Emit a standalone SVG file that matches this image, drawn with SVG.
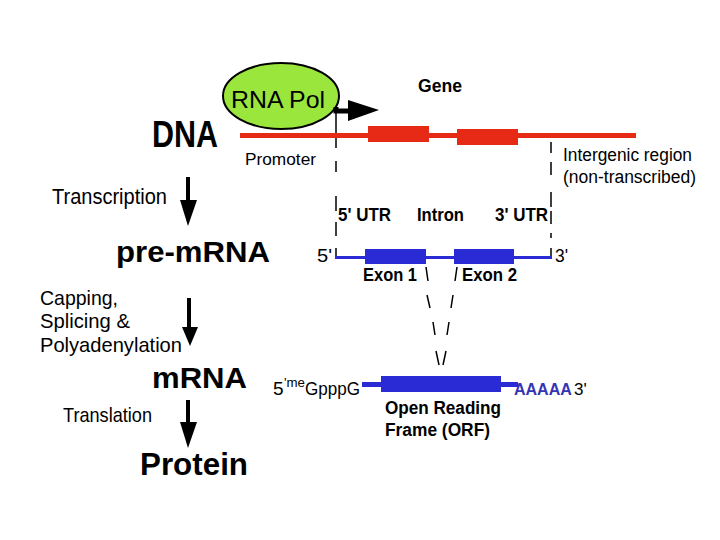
<svg xmlns="http://www.w3.org/2000/svg" width="720" height="540" viewBox="0 0 720 540">
<style>
text{font-family:"Liberation Sans",Arial,sans-serif;fill:#000}
.b{font-weight:bold}
.r{fill:#e62a16}
.bl{fill:#2b2bd6}
.dash{stroke:#000;stroke-width:1.5;fill:none}
.arr{stroke:#000;stroke-width:4;fill:none}
</style>
<rect width="720" height="540" fill="#fff"/>
<g id="connectors">
  <line class="arr" x1="188" y1="177" x2="188" y2="202"/>
  <polygon points="180,200 197,200 188,226"/>
  <line class="arr" x1="189" y1="298" x2="189" y2="329"/>
  <polygon points="182,327 198,327 190,346"/>
  <line class="arr" x1="188" y1="400" x2="188" y2="424"/>
  <polygon points="180,422 197,422 188,448"/>
  <path class="dash" d="M336,106 V148 M336,161 V172 M336,196 V211 M336,222 V236 M336,248 V259"/>
  <path class="dash" d="M551,142 V153 M551,162 V175 M551,192 V207 M551,211 V224 M551,233 V238 M551,248 V259"/>
  <path class="dash" d="M426,267 L428,281 M427,295 L430,308 M433,322 L435,335 M436,351 L439,365"/>
  <path class="dash" d="M457,267 L455,281 M453,295 L451,308 M449,322 L447,335 M446,351 L443,365"/>
  <line x1="441" y1="376" x2="441" y2="380" stroke="#000" stroke-width="1"/>
</g>
<g id="dna">
  <rect class="r" x="240" y="133" width="396" height="5"/>
  <rect class="r" x="368" y="126" width="61" height="16"/>
  <rect class="r" x="457" y="129" width="61" height="16"/>
</g>
<g id="rnapol">
  <ellipse cx="281" cy="96" rx="58" ry="33" fill="#9be63c" stroke="#000" stroke-width="2"/>
  <text x="231" y="108" font-size="24" textLength="94" lengthAdjust="spacingAndGlyphs">RNA Pol</text>
</g>
<g id="start-arrow">
  <path d="M336,107 V111 H352" stroke="#000" stroke-width="5" fill="none"/>
  <polygon points="348,100 379,110 348,121"/>
</g>
<g id="premrna">
  <rect class="bl" x="336" y="256" width="215" height="3"/>
  <rect class="bl" x="365" y="249" width="61" height="15"/>
  <rect class="bl" x="454" y="249" width="60" height="15"/>
</g>
<g id="mrna">
  <rect class="bl" x="362" y="382" width="156" height="5"/>
  <rect class="bl" x="381" y="376" width="120" height="16"/>
</g>
<g id="labels">
  <text x="418" y="92" font-size="19" class="b" textLength="44" lengthAdjust="spacingAndGlyphs">Gene</text>
  <text x="152" y="147" font-size="37" class="b" textLength="66" lengthAdjust="spacingAndGlyphs">DNA</text>
  <text x="245" y="165" font-size="17" textLength="71" lengthAdjust="spacingAndGlyphs">Promoter</text>
  <text x="563" y="161" font-size="18" textLength="129" lengthAdjust="spacingAndGlyphs">Intergenic region</text>
  <text x="563" y="183" font-size="18" textLength="133" lengthAdjust="spacingAndGlyphs">(non-transcribed)</text>
  <text x="52" y="204" font-size="22" textLength="115" lengthAdjust="spacingAndGlyphs">Transcription</text>
  <text x="338" y="221" font-size="18" class="b" textLength="53" lengthAdjust="spacingAndGlyphs">5' UTR</text>
  <text x="417" y="221" font-size="18" class="b" textLength="47" lengthAdjust="spacingAndGlyphs">Intron</text>
  <text x="495" y="221" font-size="18" class="b" textLength="53" lengthAdjust="spacingAndGlyphs">3' UTR</text>
  <text x="116" y="262" font-size="30" class="b" textLength="154" lengthAdjust="spacingAndGlyphs">pre-mRNA</text>
  <text x="317" y="262" font-size="18" textLength="15" lengthAdjust="spacingAndGlyphs">5'</text>
  <text x="555" y="262" font-size="18" textLength="13" lengthAdjust="spacingAndGlyphs">3'</text>
  <text x="363" y="281" font-size="18" class="b" textLength="54" lengthAdjust="spacingAndGlyphs">Exon 1</text>
  <text x="462" y="281" font-size="18" class="b" textLength="55" lengthAdjust="spacingAndGlyphs">Exon 2</text>
  <text x="40" y="305" font-size="21" textLength="78" lengthAdjust="spacingAndGlyphs">Capping,</text>
  <text x="40" y="328" font-size="21" textLength="90" lengthAdjust="spacingAndGlyphs">Splicing &amp;</text>
  <text x="40" y="352" font-size="21" textLength="142" lengthAdjust="spacingAndGlyphs">Polyadenylation</text>
  <text x="152" y="388" font-size="30" class="b" textLength="95" lengthAdjust="spacingAndGlyphs">mRNA</text>
  <text x="273" y="395" font-size="19">5</text>
  <text x="284" y="387" font-size="12" textLength="21" lengthAdjust="spacingAndGlyphs">'me</text>
  <text x="305" y="395" font-size="19" textLength="55" lengthAdjust="spacingAndGlyphs">GpppG</text>
  <text x="514" y="395" font-size="16" class="b" style="fill:#3434b4">AAAAA</text>
  <text x="574" y="395" font-size="17">3'</text>
  <text x="385" y="414" font-size="18" class="b" textLength="116" lengthAdjust="spacingAndGlyphs">Open Reading</text>
  <text x="385" y="436" font-size="18" class="b" textLength="105" lengthAdjust="spacingAndGlyphs">Frame (ORF)</text>
  <text x="63" y="422" font-size="21" textLength="89" lengthAdjust="spacingAndGlyphs">Translation</text>
  <text x="140" y="475" font-size="32" class="b" textLength="108" lengthAdjust="spacingAndGlyphs">Protein</text>
</g>
</svg>
